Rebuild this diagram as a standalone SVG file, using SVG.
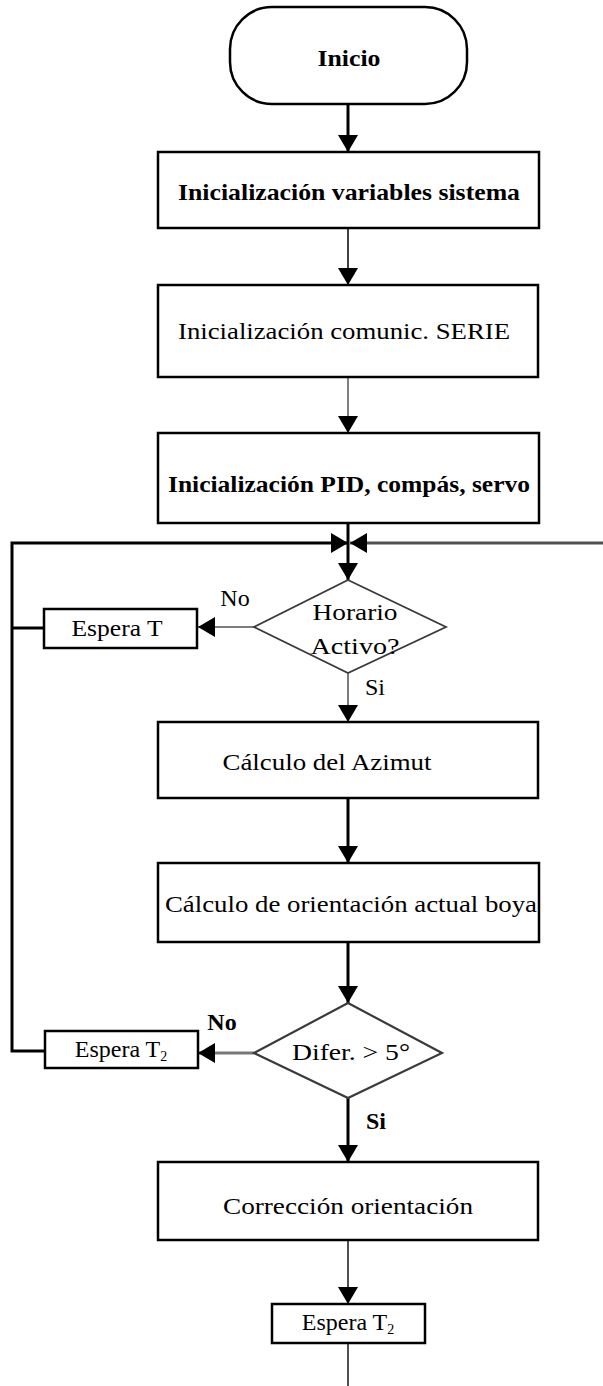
<svg xmlns="http://www.w3.org/2000/svg" width="603" height="1386" viewBox="0 0 603 1386">
<style>
  .box { fill: #fff; stroke: #000; stroke-width: 2.5; }
  .dia { fill: #fff; stroke: #3a3a3a; stroke-width: 1.8; }
  .t { font-family: "Liberation Serif", "Times New Roman", serif; font-size: 24px; fill: #000; text-anchor: middle; dominant-baseline: central; }
  .b { font-weight: bold; }
  .c { fill: none; stroke: #000; stroke-width: 3; }
  .thin { stroke-width: 1.5; }
  .grey { stroke: #505050; }
</style>
<defs>
  <marker id="ah" viewBox="0 0 17 20" refX="17" refY="10" markerWidth="17" markerHeight="20" markerUnits="userSpaceOnUse" orient="auto">
    <path d="M0,0 L17,10 L0,20 z" fill="#000"/>
  </marker>
</defs>
<rect width="603" height="1386" fill="#fff"/>
<g id="connectors">
  <path class="c" d="M348,104 V152" marker-end="url(#ah)"/>
  <path class="c thin" d="M348,228 V285" marker-end="url(#ah)"/>
  <path class="c" style="stroke-width:1" d="M348,377 V433" marker-end="url(#ah)"/>
  <path class="c" d="M348,523 V580" marker-end="url(#ah)"/>
  <path class="c" d="M44,628 H12"/>
  <path class="c" d="M45,1051 H12 V543 H348" marker-end="url(#ah)"/>
  <path class="c grey" d="M603,543 H350" marker-end="url(#ah)"/>
  <path class="c thin grey" d="M254,627 H198" marker-end="url(#ah)"/>
  <path class="c thin grey" d="M348,673 V722" marker-end="url(#ah)"/>
  <path class="c" d="M348,798 V863" marker-end="url(#ah)"/>
  <path class="c" d="M348,942 V1003" marker-end="url(#ah)"/>
  <path class="c" style="stroke:#777" d="M254,1053 H198" marker-end="url(#ah)"/>
  <path class="c" d="M348,1098 V1162" marker-end="url(#ah)"/>
  <path class="c grey" style="stroke-width:2" d="M348,1240 V1304" marker-end="url(#ah)"/>
  <path class="c grey" style="stroke-width:2" d="M348,1343 V1386"/>
</g>
<g id="inicio">
  <rect class="box" x="230" y="7" width="237" height="97" rx="42" ry="42"/>
  <text class="t b" x="349" y="58" font-size="26" textLength="63" lengthAdjust="spacingAndGlyphs">Inicio</text>
</g>
<g id="init-vars">
  <rect class="box" x="158" y="152" width="381" height="76"/>
  <text class="t b" x="349" y="192" textLength="342" lengthAdjust="spacingAndGlyphs">Inicialización variables sistema</text>
</g>
<g id="init-serie">
  <rect class="box" x="158" y="285" width="380" height="92"/>
  <text class="t" x="344" y="331" font-size="26" textLength="332" lengthAdjust="spacingAndGlyphs">Inicialización comunic. SERIE</text>
</g>
<g id="init-pid">
  <rect class="box" x="158" y="433" width="381" height="90"/>
  <text class="t b" x="349" y="484" textLength="362" lengthAdjust="spacingAndGlyphs">Inicialización PID, compás, servo</text>
</g>
<g id="horario">
  <polygon class="dia" points="348,580 446,627 348,673 254,627"/>
  <text class="t" x="355" y="612" textLength="85" lengthAdjust="spacingAndGlyphs">Horario</text>
  <text class="t" x="355" y="646" textLength="89" lengthAdjust="spacingAndGlyphs">Activo?</text>
</g>
<g id="label-no1"><text class="t" x="235" y="598">No</text></g>
<g id="label-si1"><text class="t" x="375" y="687">Si</text></g>
<g id="espera-t">
  <rect class="box" x="44" y="609" width="153" height="39"/>
  <text class="t" x="117" y="628" textLength="91" lengthAdjust="spacingAndGlyphs">Espera T</text>
</g>
<g id="azimut">
  <rect class="box" x="158" y="722" width="380" height="76"/>
  <text class="t" x="327" y="762" textLength="209" lengthAdjust="spacingAndGlyphs">Cálculo del Azimut</text>
</g>
<g id="orientacion">
  <rect class="box" x="158" y="863" width="381" height="79"/>
  <text class="t" x="351" y="904" textLength="372" lengthAdjust="spacingAndGlyphs">Cálculo de orientación actual boya</text>
</g>
<g id="difer">
  <polygon class="dia" style="stroke-width:2.2" points="348,1003 442,1053 348,1098 254,1053"/>
  <text class="t" x="351" y="1052" textLength="118" lengthAdjust="spacingAndGlyphs">Difer. &gt; 5°</text>
</g>
<g id="label-no2"><text class="t b" x="222" y="1022">No</text></g>
<g id="label-si2"><text class="t b" x="376" y="1121">Si</text></g>
<g id="espera-t2">
  <rect class="box" x="45" y="1031" width="153" height="37"/>
  <text class="t" x="121" y="1049">Espera T<tspan font-size="14" dy="7">2</tspan></text>
</g>
<g id="correccion">
  <rect class="box" x="158" y="1162" width="380" height="78"/>
  <text class="t" x="348" y="1206" textLength="250" lengthAdjust="spacingAndGlyphs">Corrección orientación</text>
</g>
<g id="espera-t2b">
  <rect class="box" x="272" y="1304" width="153" height="39"/>
  <text class="t" x="348" y="1322">Espera T<tspan font-size="14" dy="7">2</tspan></text>
</g>
</svg>
